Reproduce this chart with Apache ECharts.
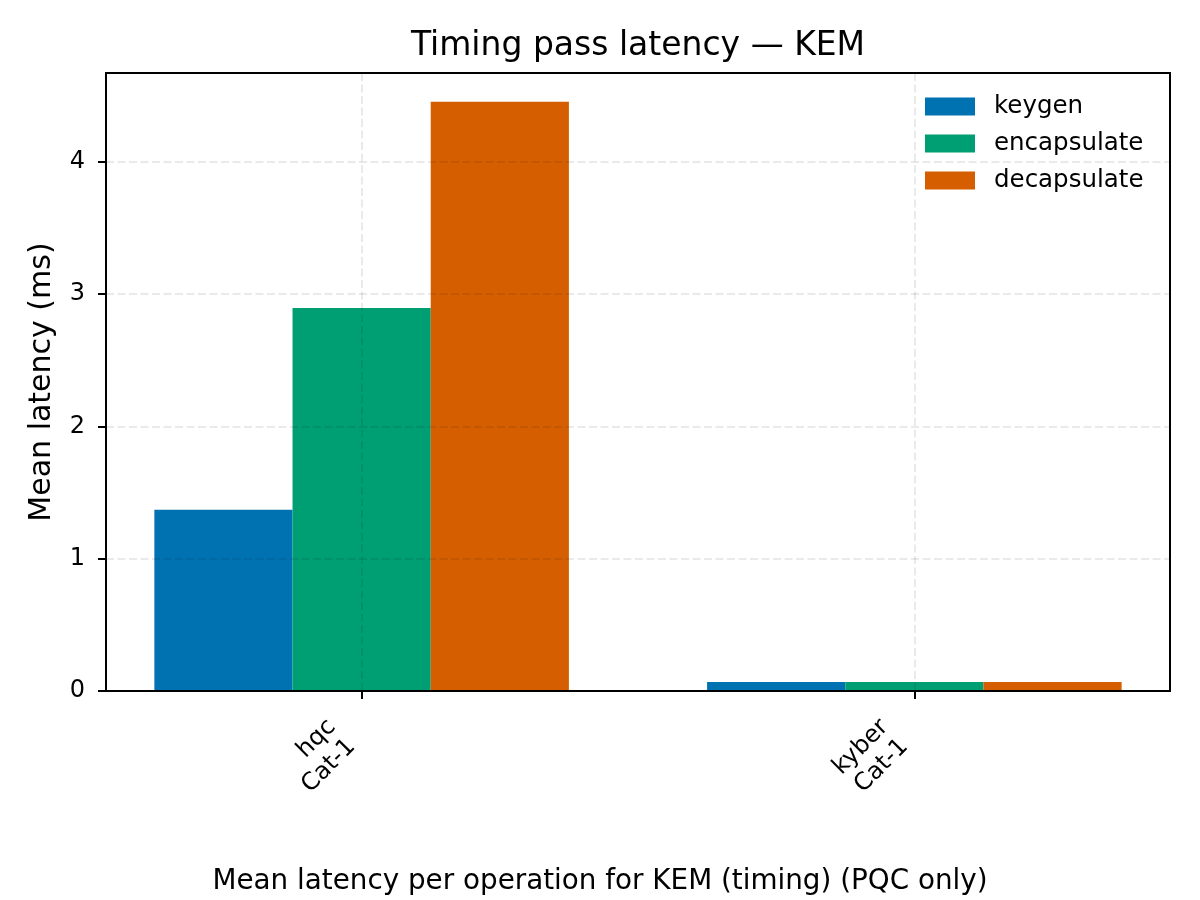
<!DOCTYPE html>
<html>
<head>
<meta charset="utf-8">
<script src="https://cdn.jsdelivr.net/npm/echarts@6/dist/echarts.min.js"></script>
<style>html,body{margin:0;padding:0;background:#fff}#c{width:1200px;height:900px}</style>
</head>
<body>
<div id="c"></div>
<script>
const categories = ['hqc\nCat-1', 'kyber\nCat-1'];
const seriesNames = ['keygen', 'encapsulate', 'decapsulate'];
const keygen = [1.37, 0.068];
const encapsulate = [2.895, 0.068];
const decapsulate = [4.452, 0.068];
const yTicks = [0, 1, 2, 3, 4];
const colors = ['#0072B2', '#009E73', '#D55E00'];

const FONT = '"DejaVu Sans", sans-serif';
const valuesList = [keygen, encapsulate, decapsulate];
const barW = 0.25;
const offsets = [-0.25, 0, 0.25];
const catIdx = categories.map((_, i) => i);

const chart = echarts.init(document.getElementById('c'), null, {renderer: 'canvas'});

const series = seriesNames.map((name, s) => ({
  name: name,
  type: 'custom',
  z: 2,
  itemStyle: {color: colors[s]},
  encode: {x: 0, y: 1},
  data: catIdx.map(i => [i, valuesList[s][i]]),
  renderItem: function (params, api) {
    const x = api.value(0) + offsets[s];
    const y = api.value(1);
    const p0 = api.coord([x - barW / 2, y]);
    const p1 = api.coord([x + barW / 2, 0]);
    return {
      type: 'rect',
      shape: {x: p0[0], y: p0[1], width: p1[0] - p0[0], height: p1[1] - p0[1]},
      style: {fill: colors[s]}
    };
  }
}));

const gridLine = {show: true, lineStyle: {color: 'rgba(0,0,0,0.11)', type: [8, 3.5], width: 1.5}};

const option = {
  backgroundColor: '#fff',
  animation: false,
  textStyle: {fontFamily: FONT},
  title: {
    text: 'Timing pass latency — KEM',
    left: 633,
    top: 25,
    textAlign: 'center',
    textStyle: {fontFamily: FONT, fontSize: 33, fontWeight: 'normal', color: '#000'}
  },
  legend: {
    orient: 'vertical',
    left: 925,
    top: 94,
    padding: 0,
    itemWidth: 50,
    itemHeight: 18,
    itemGap: 12,
    icon: 'rect',
    data: seriesNames,
    textStyle: {fontFamily: FONT, fontSize: 24.5, color: '#000', padding: [0, 0, 0, 14]}
  },
  grid: {
    left: 106, right: 30, top: 73, bottom: 209,
    show: true, borderColor: '#000', borderWidth: 2, backgroundColor: 'transparent'
  },
  xAxis: {
    type: 'value',
    min: -0.4625,
    max: 1.4625,
    z: 3,
    axisLine: {show: true, onZero: false, lineStyle: {color: '#000', width: 2}},
    axisTick: {show: true, customValues: catIdx, length: 8, lineStyle: {color: '#000', width: 2}},
    axisLabel: {
      customValues: catIdx,
      formatter: v => categories[Math.round(v)] || '',
      rotate: 45,
      margin: 62,
      align: 'right',
      verticalAlign: 'bottom',
      fontFamily: FONT,
      fontSize: 24,
      color: '#000',
      lineHeight: 28
    },
    splitLine: gridLine
  },
  yAxis: {
    type: 'value',
    min: 0,
    max: 4.67,
    z: 3,
    name: 'Mean latency (ms)',
    nameLocation: 'middle',
    nameGap: 49,
    nameTextStyle: {fontFamily: FONT, fontSize: 30, color: '#000'},
    axisLine: {show: true, onZero: false, lineStyle: {color: '#000', width: 2}},
    axisTick: {show: true, customValues: yTicks, length: 8, lineStyle: {color: '#000', width: 2}},
    axisLabel: {customValues: yTicks, margin: 21, fontFamily: FONT, fontSize: 24, color: '#000'},
    splitLine: gridLine
  },
  graphic: [{
    type: 'text',
    left: 'center',
    top: 868,
    style: {
      text: 'Mean latency per operation for KEM (timing) (PQC only)',
      font: '27.8px "DejaVu Sans", sans-serif',
      fill: '#000'
    }
  }],
  series: series
};
chart.setOption(option);
</script>
</body>
</html>
